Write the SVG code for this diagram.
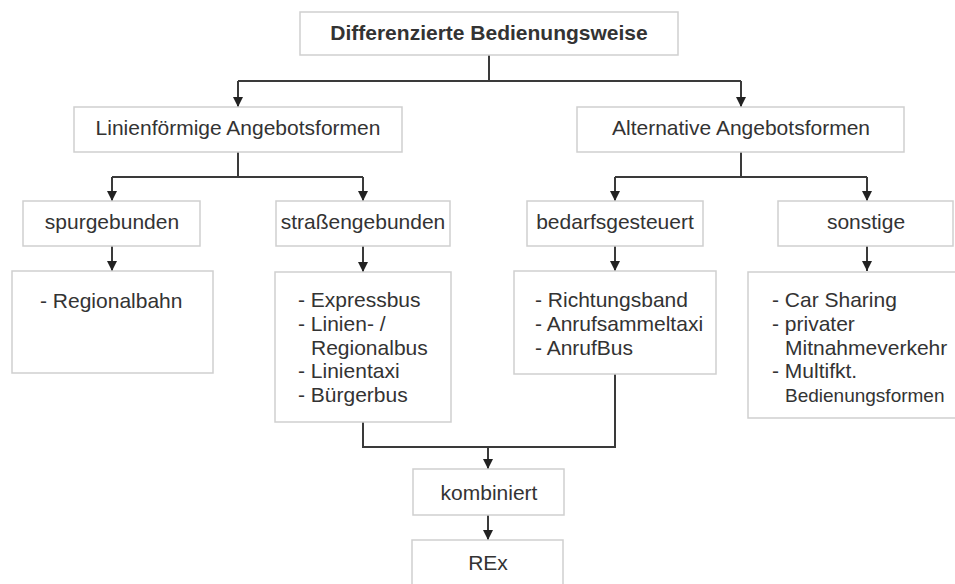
<svg xmlns="http://www.w3.org/2000/svg" width="955" height="584" viewBox="0 0 955 584">
<style>
.box{fill:#fff;stroke:#cfcfcf;stroke-width:1.5}
.t{font-family:"Liberation Sans",Arial,sans-serif;font-size:21px;fill:#333}
.c{text-anchor:middle}
.b{font-weight:bold}
.ln{fill:none;stroke:#3a3a3a;stroke-width:2}
</style>
<defs>
<marker id="ah" viewBox="0 0 10 10" refX="10" refY="5" markerWidth="10" markerHeight="10" markerUnits="userSpaceOnUse" orient="auto">
<path d="M0,0 L10,5 L0,10 Z" fill="#222"/>
</marker>
</defs>
<rect width="955" height="584" fill="#fff"/>
<g id="connectors">
<path class="ln" d="M489,55 V81 M238,81 H741"/>
<path class="ln" d="M238,81 V107" marker-end="url(#ah)"/>
<path class="ln" d="M741,81 V107" marker-end="url(#ah)"/>
<path class="ln" d="M238,152 V177 M112,177 H363"/>
<path class="ln" d="M112,177 V201" marker-end="url(#ah)"/>
<path class="ln" d="M363,177 V201" marker-end="url(#ah)"/>
<path class="ln" d="M741,152 V177 M615,177 H867"/>
<path class="ln" d="M615,177 V201" marker-end="url(#ah)"/>
<path class="ln" d="M867,177 V201" marker-end="url(#ah)"/>
<path class="ln" d="M112,246 V271" marker-end="url(#ah)"/>
<path class="ln" d="M363,246 V272" marker-end="url(#ah)"/>
<path class="ln" d="M615,246 V271" marker-end="url(#ah)"/>
<path class="ln" d="M867,246 V271" marker-end="url(#ah)"/>
<path class="ln" d="M363,422 V447 H615 V374"/>
<path class="ln" d="M488,447 V469" marker-end="url(#ah)"/>
<path class="ln" d="M488,515 V540" marker-end="url(#ah)"/>
</g>
<g id="n_root">
<rect class="box" x="300" y="12" width="378" height="43"/>
<text class="t c b" x="489" y="40">Differenzierte Bedienungsweise</text>
</g>
<g id="n_linien">
<rect class="box" x="74" y="107" width="328" height="45"/>
<text class="t c" x="238" y="135">Linienförmige Angebotsformen</text>
</g>
<g id="n_alt">
<rect class="box" x="577" y="107" width="327" height="45"/>
<text class="t c" x="741" y="135">Alternative Angebotsformen</text>
</g>
<g id="n_spur">
<rect class="box" x="23" y="201" width="177" height="45"/>
<text class="t c" x="112" y="229">spurgebunden</text>
</g>
<g id="n_strasse">
<rect class="box" x="276" y="201" width="174" height="45"/>
<text class="t c" x="363" y="229">straßengebunden</text>
</g>
<g id="n_bedarf">
<rect class="box" x="527" y="201" width="176" height="45"/>
<text class="t c" x="615" y="229">bedarfsgesteuert</text>
</g>
<g id="n_sonst">
<rect class="box" x="778" y="201" width="175" height="45"/>
<text class="t c" x="866" y="229">sonstige</text>
</g>
<g id="n_regbahn">
<rect class="box" x="12" y="271" width="201" height="102"/>
<text class="t" x="40" y="308">- Regionalbahn</text>
</g>
<g id="n_strlist">
<rect class="box" x="275" y="272" width="176" height="150"/>
<text class="t" x="298" y="307">- Expressbus</text>
<text class="t" x="298" y="331">- Linien- /</text>
<text class="t" x="311" y="355">Regionalbus</text>
<text class="t" x="298" y="378">- Linientaxi</text>
<text class="t" x="298" y="402">- Bürgerbus</text>
</g>
<g id="n_bedlist">
<rect class="box" x="514" y="271" width="202" height="103"/>
<text class="t" x="535" y="307">- Richtungsband</text>
<text class="t" x="535" y="331">- Anrufsammeltaxi</text>
<text class="t" x="535" y="355">- AnrufBus</text>
</g>
<g id="n_sonlist">
<rect class="box" x="748" y="272" width="220" height="146"/>
<text class="t" x="772" y="307">- Car Sharing</text>
<text class="t" x="772" y="331">- privater</text>
<text class="t" x="785" y="355">Mitnahmeverkehr</text>
<text class="t" x="772" y="378">- Multifkt.</text>
<text class="t" x="785" y="402" style="font-size:19px">Bedienungsformen</text>
</g>
<g id="n_komb">
<rect class="box" x="413" y="469" width="151" height="46"/>
<text class="t c" x="489" y="500">kombiniert</text>
</g>
<g id="n_rex">
<rect class="box" x="412" y="540" width="151" height="50"/>
<text class="t c" x="488" y="570">REx</text>
</g>
</svg>
